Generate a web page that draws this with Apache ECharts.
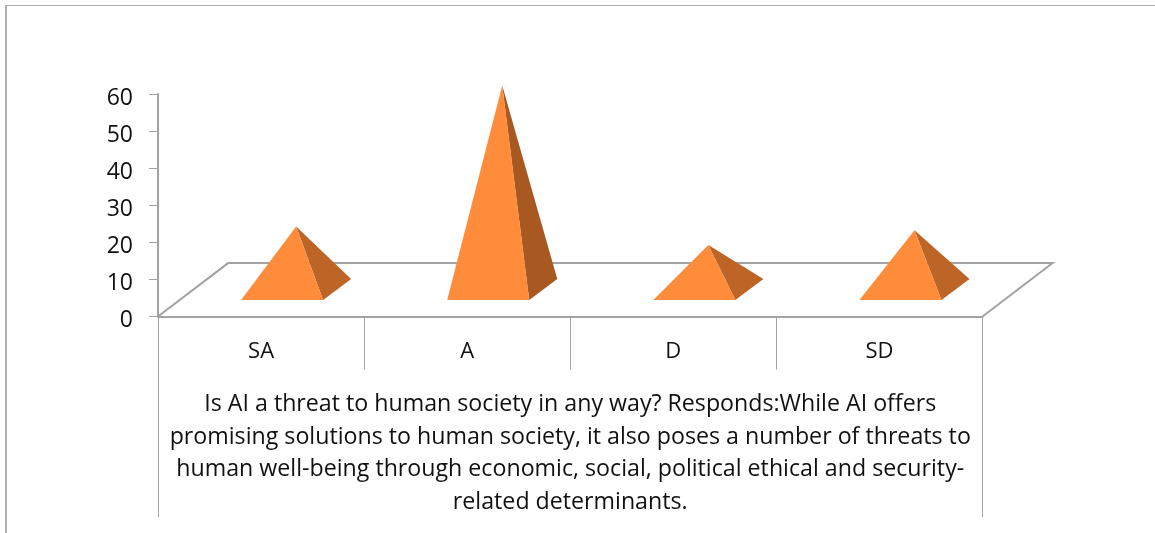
<!DOCTYPE html>
<html>
<head>
<meta charset="utf-8">
<style>html,body{margin:0;padding:0;background:#fff}#chart{width:1155px;height:533px}</style>
<script src="https://cdn.jsdelivr.net/npm/echarts@6/dist/echarts.min.js"></script>
</head>
<body>
<div id="chart"></div>
<script>
const categories = ['SA', 'A', 'D', 'SD'];
const values = [17, 55, 12, 16];
const axisTitleLines = [
  'Is AI a threat to human society in any way? Responds:While AI offers',
  'promising solutions to human society, it also poses a number of threats to',
  'human well-being through economic, social, political ethical and security-',
  'related determinants.'
];

const GRAY = '#A3A3A3';
const FONT = '"Open Sans", "Noto Sans", sans-serif';

const chart = echarts.init(document.getElementById('chart'), null, { renderer: 'canvas' });

function renderFloor(params) {
  const c = params.coordSys;
  const left = c.x, right = c.x + c.width, bottom = c.y + c.height;
  const dx = c.width * 0.085, dy = c.height * 0.24;
  const line = { stroke: GRAY, lineWidth: 2, fill: null };
  return {
    type: 'group',
    silent: true,
    children: [
      { type: 'polyline', shape: { points: [[left, bottom], [left + dx, bottom - dy], [right + dx, bottom - dy], [right, bottom]] }, style: line },
      { type: 'line', shape: { x1: Math.round(left) + 0.5, y1: bottom, x2: Math.round(left) + 0.5, y2: 517 }, style: { stroke: GRAY, lineWidth: 1 } },
      { type: 'line', shape: { x1: Math.round(right) - 0.5, y1: bottom, x2: Math.round(right) - 0.5, y2: 517 }, style: { stroke: GRAY, lineWidth: 1 } }
    ]
  };
}

function renderPyramid(params, api) {
  const idx = api.value(0);
  const val = api.value(1);
  const band = api.size([1, 0])[0];
  const origin = api.coord([idx, 0]);
  const height = api.size([0, val])[1];
  const cx = origin[0] + band * 0.17;
  const cy = origin[1] - 27;
  const fl = [cx - band * 0.267, cy + 10.5];
  const fr = [cx + band * 0.131, cy + 10.5];
  const br = [cx + band * 0.267, cy - 10.5];
  const apex = [cx, cy - height];
  return {
    type: 'group',
    children: [
      { type: 'polygon', shape: { points: [fr, br, apex] }, style: { fill: val > 30 ? '#A75921' : '#BD6526' } },
      { type: 'polygon', shape: { points: [fl, fr, apex] }, style: { fill: '#FF8C3A' } }
    ]
  };
}

chart.setOption({
  animation: false,
  backgroundColor: '#fff',
  grid: { left: 158, right: 172.5, top: 94, height: 222.5, containLabel: false },
  graphic: [
    { type: 'line', shape: { x1: 5, y1: 5.5, x2: 1155, y2: 5.5 }, style: { stroke: '#B0B0B0', lineWidth: 1 } },
    { type: 'line', shape: { x1: 6, y1: 5, x2: 6, y2: 533 }, style: { stroke: '#B0B0B0', lineWidth: 2 } }
  ],
  xAxis: {
    type: 'category',
    data: categories,
    boundaryGap: true,
    axisLine: { lineStyle: { color: GRAY, width: 2 } },
    axisTick: { show: true, length: 53, lineStyle: { color: GRAY, width: 1 } },
    axisLabel: { color: '#111', fontFamily: FONT, fontSize: 22, margin: 24 },
    name: axisTitleLines.join('\n'),
    nameLocation: 'middle',
    nameGap: 72,
    nameTextStyle: { color: '#111', fontFamily: FONT, fontSize: 23.2, lineHeight: 32.5, verticalAlign: 'top', align: 'center' }
  },
  yAxis: {
    type: 'value',
    min: 0,
    max: 60,
    interval: 10,
    axisLine: { show: true, lineStyle: { color: GRAY, width: 2 } },
    axisTick: { show: true, length: 9, lineStyle: { color: GRAY, width: 1 } },
    axisLabel: { color: '#111', fontFamily: FONT, fontSize: 23, margin: 25, verticalAlign: 'top', lineHeight: 8 },
    splitLine: { show: false }
  },
  series: [
    {
      type: 'custom',
      coordinateSystem: 'cartesian2d',
      data: [[0, 0]],
      renderItem: renderFloor,
      silent: true,
      z: 1
    },
    {
      type: 'custom',
      coordinateSystem: 'cartesian2d',
      encode: { x: 0, y: 1 },
      data: values.map((v, i) => [i, v]),
      renderItem: renderPyramid,
      z: 2
    }
  ]
});
</script>
</body>
</html>
